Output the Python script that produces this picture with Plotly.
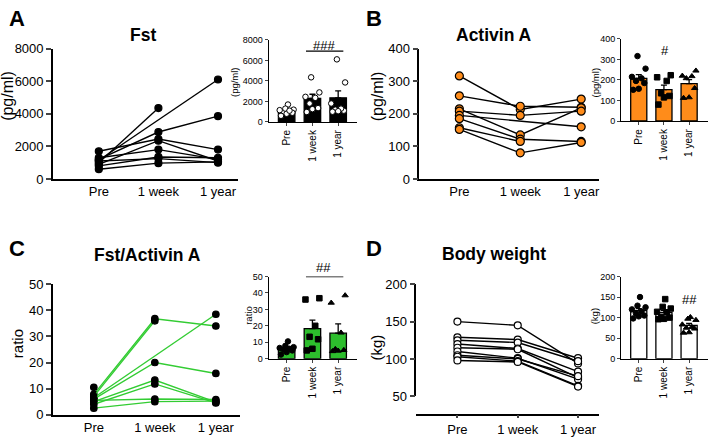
import plotly.graph_objects as go

W, H = 709, 442
FONT = "Liberation Sans, Arial, sans-serif"

timepoints = ["Pre", "1 week", "1 year"]

# Fst (pg/ml), one entry per subject; None = missing visit
fst_pre = [1000, 1150, 1200, 1700, 900, 1300, 800, 600, 1100]
fst_week = [4350, None, 2880, 2450, 2350, 1800, 1350, 970, 1250]
fst_year = [None, 6100, 3850, 1800, 1100, 1200, 1300, 1050, 1000]
fst_mean = [1100, 2300, 2350]
fst_sem = [140, 400, 680]

# Activin A (pg/ml)
act_pre = [316, 255, 215, 208, 195, 185, 157, 152]
act_week = [213, 223, 135, 195, None, 122, 115, 80]
act_year = [245, 220, 218, 208, 160, 115, None, 112]
act_mean = [208, 153, 182]
act_sem = [18, 22, 20]

# Fst / Activin A ratio
ratio_pre = [7.8, 7.0, 6.5, 6.0, 5.0, 4.0, 5.5, 2.5, 10.5]
ratio_week = [36.8, 36.0, None, 20.0, 13.3, 11.8, 6.0, 5.0, None]
ratio_year = [34.0, None, 38.5, 15.8, 4.8, 4.5, 5.8, 5.2, None]
ratio_mean = [6.1, 18.3, 15.5]
ratio_sem = [0.9, 5.2, 5.7]

# Body weight (kg)
bw_pre = [150, 129, 125, 120, 115, 110, 105, 103, 98]
bw_week = [145, 126, 122, 114, 113, 101, 100, 97, 96]
bw_year = [94, 101, 97, 83, 75, 73, 77, 64, 63]
bw_mean = [117, 112, 81]
bw_sem = [5, 5, 5]

ORANGE = "#FF8C1A"
GREEN = "#2DBE2D"
GREEN_LINE = "#33CC33"


def fx(px):
    return px / W


def fy(py):
    return 1 - py / H


def jitter(values):
    """spread the points of one group sideways, Prism-like"""
    pattern = [-0.22, 0.0, 0.22, -0.11, 0.11, -0.27, 0.27, -0.05, 0.05]
    order = sorted(range(len(values)), key=lambda i: values[i])
    offs = [0.0] * len(values)
    for k, i in enumerate(order):
        offs[i] = pattern[k % len(pattern)]
    return offs


fig = go.Figure()
layout = dict(
    width=W, height=H, margin=dict(l=0, r=0, t=0, b=0),
    paper_bgcolor="white", plot_bgcolor="white",
    showlegend=False, font=dict(family=FONT, color="black"),
    annotations=[], shapes=[],
)


def add_main(n, pre, week, year, line_color, mfill, mline, msize,
             xdom, ydom, xrange_, yrange, dtick, xticks=False, xpos=None):
    xa, ya = "x%d" % n, "y%d" % n
    for a, b, c in zip(pre, week, year):
        fig.add_trace(go.Scatter(
            x=[0, 1, 2], y=[a, b, c], xaxis=xa, yaxis=ya,
            mode="lines+markers", connectgaps=True,
            line=dict(color=line_color, width=1.4),
            marker=dict(size=msize, color=mfill, line=dict(color=mline, width=1.2)),
            cliponaxis=False))
    xkey = "xaxis" if n == 1 else "xaxis%d" % n
    ykey = "yaxis" if n == 1 else "yaxis%d" % n
    layout[xkey] = dict(
        domain=[fx(xdom[0]), fx(xdom[1])], range=xrange_,
        tickvals=[0, 1, 2], ticktext=timepoints,
        showline=True, linecolor="black", linewidth=1.5,
        ticks="outside" if xticks else "", ticklen=3, tickwidth=1.5,
        tickfont=dict(size=13), showgrid=False, zeroline=False,
        anchor=ya if xpos is None else "free",
    )
    if xpos is not None:
        layout[xkey]["position"] = fy(xpos)
    layout[ykey] = dict(
        domain=[fy(ydom[1]), fy(ydom[0])], range=yrange, dtick=dtick,
        showline=True, linecolor="black", linewidth=1.5,
        ticks="outside", ticklen=5, tickwidth=1.5,
        tickfont=dict(size=13), showgrid=False, zeroline=False, anchor=xa,
    )


def add_inset(n, groups, mean, sem, bar_color, pt_fill, xdom, ydom, yrange, dtick):
    xa, ya = "x%d" % n, "y%d" % n
    fig.add_trace(go.Bar(
        x=[0, 1, 2], y=mean, xaxis=xa, yaxis=ya, width=0.64,
        marker=dict(color=bar_color, line=dict(color="black", width=1.3)),
        error_y=dict(type="data", array=sem, arrayminus=[0, 0, 0], symmetric=False,
                     color="black", thickness=1.3, width=3)))
    symbols = ["circle", "square", "triangle-up"]
    for k, vals in enumerate(groups):
        vals = [v for v in vals if v is not None]
        offs = jitter(vals)
        fig.add_trace(go.Scatter(
            x=[k + o for o in offs], y=vals, xaxis=xa, yaxis=ya, mode="markers",
            marker=dict(size=5.5, symbol=symbols[k] if pt_fill == "black" else "circle",
                        color=pt_fill, line=dict(color="black", width=1)),
            cliponaxis=False))
    xkey, ykey = "xaxis%d" % n, "yaxis%d" % n
    layout[xkey] = dict(
        domain=[fx(xdom[0]), fx(xdom[1])], range=[-0.7, 2.75],
        tickvals=[0, 1, 2], ticktext=timepoints, tickangle=-90,
        showline=True, linecolor="black", linewidth=1.2,
        ticks="outside", ticklen=3, tickwidth=1.2,
        tickfont=dict(size=10), showgrid=False, zeroline=False, anchor=ya,
    )
    layout[ykey] = dict(
        domain=[fy(ydom[1]), fy(ydom[0])], range=yrange, dtick=dtick,
        showline=True, linecolor="black", linewidth=1.2,
        ticks="outside", ticklen=3, tickwidth=1.2,
        tickfont=dict(size=9), showgrid=False, zeroline=False, anchor=xa,
    )


def text(px, py, s, size, angle=0, bold=False):
    layout["annotations"].append(dict(
        x=fx(px), y=fy(py), xref="paper", yref="paper", showarrow=False,
        text="<b>%s</b>" % s if bold else s, textangle=angle,
        font=dict(size=size, family=FONT, color="black"),
        xanchor="center", yanchor="middle"))


def sig_line(n, x0, x1, y):
    layout["shapes"].append(dict(type="line", xref="x%d" % n, yref="y%d" % n,
                                 x0=x0, x1=x1, y0=y, y1=y,
                                 line=dict(color="black", width=1.2)))


# A - Fst
add_main(1, fst_pre, fst_week, fst_year, "black", "black", "black", 7,
         (53, 238), (43, 178), [-0.77, 2.33], [0, 8000], 2000)
add_inset(2, [fst_pre, fst_week, fst_year], fst_mean, fst_sem, "black", "white",
          (269, 358), (34, 119), [0, 8000], 2000)
sig_line(2, 0.75, 2.2, 6900)

# B - Activin A
add_main(3, act_pre, act_week, act_year, "black", ORANGE, "black", 8,
         (420, 600), (43, 178), [-0.656, 2.295], [0, 400], 100)
add_inset(4, [act_pre, act_week, act_year], act_mean, act_sem, ORANGE, "black",
          (622, 709), (33, 118), [0, 400], 100)

# C - ratio
add_main(5, ratio_pre, ratio_week, ratio_year, GREEN_LINE, "black", "black", 6.5,
         (53, 240), (287, 422), [-0.67, 2.39], [0, 50], 10)
add_inset(6, [ratio_pre, ratio_week, ratio_year], ratio_mean, ratio_sem, GREEN, "black",
          (269, 358), (279, 364), [0, 50], 10)
sig_line(6, 0.75, 2.2, 50)

# D - body weight
add_main(7, bw_pre, bw_week, bw_year, "black", "white", "black", 7,
         (417, 600), (287, 403), [-0.68, 2.35], [50, 200], 50, xticks=True, xpos=422)
add_inset(8, [bw_pre, bw_week, bw_year], bw_mean, bw_sem, "white", "black",
          (622, 709), (279, 364), [0, 200], 50)

# significance marks
text(324, 40, "###", 13)
text(666, 45, "#", 13)
text(324, 270, "##", 13)
text(690, 303, "##", 13)

# titles, panel letters, axis titles
text(143, 29, "Fst", 17.5, bold=True)
text(495, 29, "Activin A", 17.5, bold=True)
text(148, 257, "Fst/Activin A", 17.5, bold=True)
text(495, 256, "Body weight", 17.5, bold=True)
text(17, 12, "A", 22, bold=True)
text(375, 12, "B", 22, bold=True)
text(17, 250, "C", 22, bold=True)
text(375, 250, "D", 22, bold=True)
text(8, 92, "(pg/ml)", 16, angle=-90)
text(378, 92, "(pg/ml)", 16, angle=-90)
text(17, 348, "ratio", 15, angle=-90)
text(377, 352, "(kg)", 15, angle=-90)
text(235, 78, "(pg/ml)", 9.5, angle=-90)
text(596, 78, "(pg/ml)", 9.5, angle=-90)
text(248, 320, "ratio", 9.5, angle=-90)
text(595, 320, "(kg)", 9.5, angle=-90)

fig.update_layout(**layout)
# page body has a default 8px margin; drop it so the figure fills the window
fig.write_html("out.html", config={"displayModeBar": False},
               post_script="document.body.style.margin='0';"
                           "document.body.style.overflow='hidden';")
